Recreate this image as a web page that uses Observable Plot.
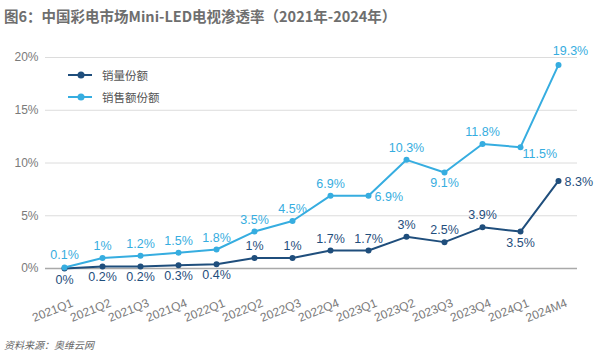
<!DOCTYPE html>
<html><head><meta charset="utf-8">
<script src="https://cdn.jsdelivr.net/npm/d3@7"></script>
<script src="https://cdn.jsdelivr.net/npm/@observablehq/plot@0.6"></script>
<style>
body{margin:0;background:#fff;font-family:"Liberation Sans","Noto Sans CJK SC",sans-serif;}
#wrap{position:relative;width:596px;height:357px;overflow:hidden;}
#title{position:absolute;left:4px;top:5px;font-family:"Noto Sans CJK SC",sans-serif;font-weight:bold;font-size:14.5px;color:#6e6e6e;white-space:nowrap;}
#chart{position:absolute;left:0;top:30px;}
#legend{position:absolute;left:68px;top:64px;font-family:"Noto Sans CJK SC",sans-serif;font-size:11.5px;color:#555;}
#legend div{display:flex;align-items:center;height:22px;}
#legend svg{margin-right:10px;}
#caption{position:absolute;left:4px;top:337px;font-family:"Noto Sans CJK SC",sans-serif;font-style:italic;font-size:10px;color:#666;}
</style></head>
<body><div id="wrap">
<div id="title">图6：中国彩电市场Mini-LED电视渗透率（2021年-2024年）</div>
<div id="chart"></div>
<div id="legend"></div>
<div id="caption">资料来源：奥维云网</div>
</div>
<script>
const periods = ["2021Q1","2021Q2","2021Q3","2021Q4","2022Q1","2022Q2","2022Q3","2022Q4","2023Q1","2023Q2","2023Q3","2023Q4","2024Q1","2024M4"];
const volumeShare = [0,0.2,0.2,0.3,0.4,1,1,1.7,1.7,3,2.5,3.9,3.5,8.3];
const valueShare = [0.1,1,1.2,1.5,1.8,3.5,4.5,6.9,6.9,10.3,9.1,11.8,11.5,19.3];
const seriesNames = ["销量份额","销售额份额"];
const yTicks = [0,5,10,15,20];
// label placement per point
const volumeLabelPos = ["below","below","below","below","below","above","above","above","above","above","above","above","below","right"];
const valueLabelPos = ["above","above","above","above","above","above","above","above","right","above","below","above","rightbelow","aboveright"];

const darkColor = "#1f4e7c";
const lightColor = "#36ade0";

const rows = [];
periods.forEach((p,i)=>{
  rows.push({period:p, value:volumeShare[i], series:seriesNames[0], pos:volumeLabelPos[i]});
  rows.push({period:p, value:valueShare[i], series:seriesNames[1], pos:valueLabelPos[i]});
});
const fmt = d => d.value + "%";
const colorOf = d => d.series === seriesNames[0] ? darkColor : lightColor;
const place = {
  above:{dy:-12, textAnchor:"middle", dx:0},
  below:{dy:11, textAnchor:"middle", dx:0},
  right:{dy:1, textAnchor:"start", dx:6},
  rightbelow:{dy:7, textAnchor:"start", dx:2},
  aboveright:{dy:-14, textAnchor:"middle", dx:12}
};
const labelMarks = Object.entries(place).map(([k,o]) =>
  Plot.text(rows.filter(d=>d.pos===k), {x:"period", y:"value", text:fmt, fill:d=>colorOf(d), ...o, fontSize:12.5, fontFamily:"Liberation Sans, sans-serif"})
);

const chart = Plot.plot({
  width:596, height:300,
  marginLeft:45, marginRight:19, marginTop:27, marginBottom:62,
  x:{type:"point", domain:periods, padding:0.5},
  y:{domain:[0,20]},
  style:{fontFamily:"Liberation Sans, sans-serif", color:"#777"},
  marks:[
    Plot.ruleY(yTicks.filter(t=>t>0), {stroke:"#dcdcdc", strokeWidth:1}),
    Plot.ruleY([0], {stroke:"#a9a9a9", strokeWidth:1.5}),
    Plot.axisY({ticks:yTicks, tickFormat:d=>d+"%", tickSize:0, tickPadding:7, fontSize:12, fill:"#7a7a7a", label:null}),
    Plot.axisX({tickRotate:-22, tickSize:0, tickPadding:34, dx:8, fontSize:12, fill:"#7a7a7a", label:null}),
    Plot.line(rows, {x:"period", y:"value", z:"series", stroke:d=>colorOf(d), strokeWidth:2}),
    Plot.dot(rows, {x:"period", y:"value", fill:d=>colorOf(d), r:3}),
    ...labelMarks
  ]
});
document.getElementById("chart").appendChild(chart);

const legend = document.getElementById("legend");
[[seriesNames[0],darkColor],[seriesNames[1],lightColor]].forEach(([name,c])=>{
  const div = document.createElement("div");
  div.innerHTML = `<svg width="24" height="10"><line x1="0" y1="5" x2="24" y2="5" stroke="${c}" stroke-width="2"/><circle cx="13" cy="5" r="3.5" fill="${c}"/></svg><span>${name}</span>`;
  legend.appendChild(div);
});
</script>
</body></html>
